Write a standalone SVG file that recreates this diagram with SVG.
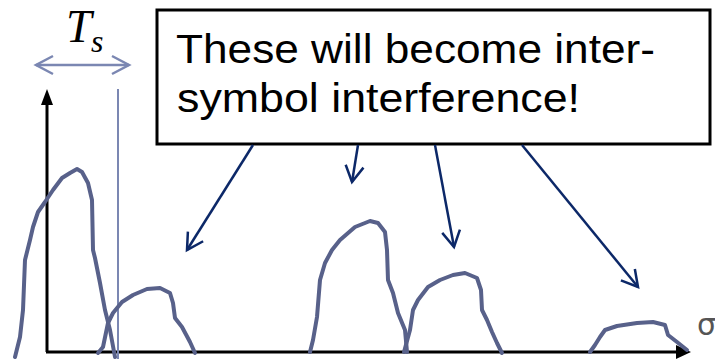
<svg xmlns="http://www.w3.org/2000/svg" width="715" height="359" viewBox="0 0 715 359">
<style>
.pulse{fill:none;stroke:#58618a;stroke-width:4;stroke-linejoin:round;stroke-linecap:round}
.conn{fill:none;stroke:#0c2868;stroke-width:2.5}
.ts{fill:none;stroke:#7b87b2;stroke-width:2.5}
.axis{fill:none;stroke:#000;stroke-width:3}
.label{font-family:"Liberation Sans",Arial,sans-serif;font-size:41px;fill:#000}
</style>
<defs>
<marker id="openBlue" markerUnits="userSpaceOnUse" markerWidth="24" markerHeight="24" viewBox="-20 -12 24 24" refX="0" refY="0" orient="auto">
<path d="M-16,-9 L0,0 L-16,9" fill="none" stroke="#0c2868" stroke-width="2.5"/>
</marker>
<marker id="openTs" markerUnits="userSpaceOnUse" markerWidth="24" markerHeight="24" viewBox="-20 -12 24 24" refX="0" refY="0" orient="auto-start-reverse">
<path d="M-17,-9 L0,0 L-17,9" fill="none" stroke="#7b87b2" stroke-width="2.5"/>
</marker>
</defs>
<rect width="715" height="359" fill="#fff"/>

<g id="axes">
<line class="axis" x1="47" y1="352" x2="47" y2="102"/>
<polygon points="47,89 41,105 53,105" fill="#000"/>
<line class="axis" x1="46" y1="352" x2="678" y2="352"/>
<polygon points="691,352 676,345 676,359" fill="#000"/>
</g>

<g id="ts-marker">
<line class="ts" x1="36" y1="65" x2="129" y2="65" marker-start="url(#openTs)" marker-end="url(#openTs)"/>
<line x1="118" y1="89" x2="118" y2="359" stroke="#7b87b2" stroke-width="2"/>
<text x="66" y="42" font-family="Liberation Serif,'Times New Roman',serif" font-style="italic" font-size="46">T</text>
<text x="91" y="52" font-family="Liberation Serif,'Times New Roman',serif" font-style="italic" font-size="32">s</text>
</g>

<g id="pulse1">
<path class="pulse" d="M15,357 L20,337 L23,310 L25,260 L30,240 L33,227 L38,212 L45,202 L53,190 L62,178 L70,173 L77,169 L82,172 L88,183 L92,200 L93,250 L95,258 L100,283 L105,310 L110,330 L115,357"/>
</g>
<g id="pulse2">
<path class="pulse" d="M98,353 L103,347 L108,323 L113,313 L122,302 L133,295 L147,289 L160,288 L170,293 L173,303 L175,318 L182,327 L190,342 L195,353"/>
</g>
<g id="pulse3">
<path class="pulse" d="M310,352 L313,340 L317,317 L320,280 L325,263 L332,250 L340,240 L355,227 L370,221 L378,223 L385,232 L387,250 L388,280 L393,293 L398,313 L405,330 L407,352"/>
</g>
<g id="pulse4">
<path class="pulse" d="M404,352 L410,330 L413,310 L418,300 L428,287 L440,280 L453,275 L465,273 L477,278 L481,290 L482,310 L487,320 L492,332 L497,343 L502,353"/>
</g>
<g id="pulse5">
<path class="pulse" d="M590,352 L595,345 L600,337 L605,330 L617,326 L637,323 L653,322 L665,325 L668,335 L677,342 L687,350"/>
</g>

<g id="callout">
<rect x="157" y="10" width="553" height="134" fill="#fff" stroke="#000" stroke-width="3"/>
<text class="label" x="176" y="63" textLength="479" lengthAdjust="spacingAndGlyphs">These will become inter-</text>
<text class="label" x="177" y="112" textLength="403" lengthAdjust="spacingAndGlyphs">symbol interference!</text>
</g>

<g id="connectors">
<line class="conn" x1="253" y1="145" x2="187" y2="250" marker-end="url(#openBlue)"/>
<line class="conn" x1="358" y1="145" x2="352" y2="182" marker-end="url(#openBlue)"/>
<line class="conn" x1="435" y1="145" x2="454" y2="247" marker-end="url(#openBlue)"/>
<line class="conn" x1="522" y1="145" x2="638" y2="287" marker-end="url(#openBlue)"/>
</g>

<text x="697" y="335" font-family="'DejaVu Sans',sans-serif" font-size="30" fill="#555">σ</text>
</svg>
